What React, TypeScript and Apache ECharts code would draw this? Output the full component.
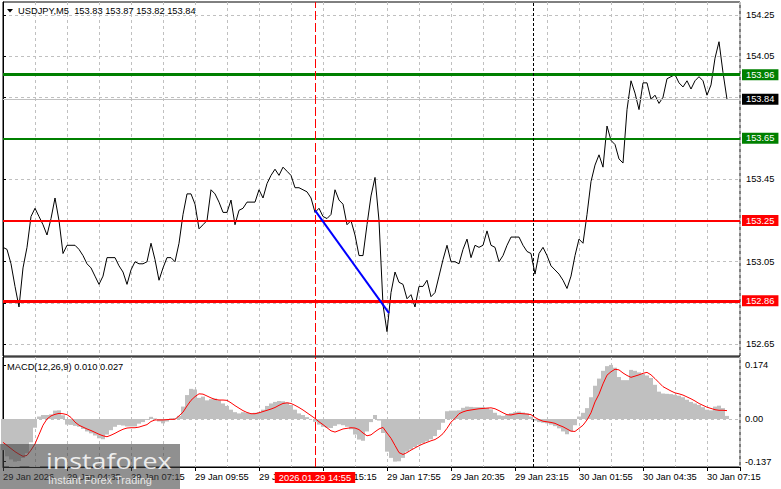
import React, { useEffect, useRef } from 'react';
import * as echarts from 'echarts';

// ---- data (M5 chart sampled every 10 minutes, t = minutes since 29 Jan 01:55) ----
const STEP_MIN = 10;
const price = [
  153.12, 153.11, 153.04, 152.93, 152.83, 153.02, 153.12, 153.27, 153.31, 153.27,
  153.23, 153.18, 153.26, 153.36, 153.25, 153.09, 153.13, 153.13, 153.13, 153.11,
  153.08, 153.04, 153.02, 152.98, 152.94, 152.98, 153.07, 153.07, 153.07, 153.03,
  153.00, 152.94, 153.01, 153.05, 153.04, 153.04, 153.05, 153.14, 153.06, 152.96,
  153.02, 153.07, 153.07, 153.05, 153.14, 153.28, 153.38, 153.38, 153.33, 153.21,
  153.23, 153.25, 153.40, 153.38, 153.34, 153.29, 153.29, 153.35, 153.23, 153.30,
  153.31, 153.34, 153.34, 153.34, 153.40, 153.36, 153.43, 153.47, 153.50, 153.47,
  153.51, 153.49, 153.47, 153.41, 153.41, 153.40, 153.39, 153.36, 153.29, 153.31,
  153.27, 153.26, 153.28, 153.40, 153.35, 153.33, 153.23, 153.25, 153.18, 153.08,
  153.08, 153.23, 153.37, 153.46, 153.25, 152.84, 152.71, 152.90, 153.00, 152.95,
  152.94, 152.87, 152.89, 152.83, 152.93, 152.93, 152.96, 152.88, 152.90, 152.98,
  153.06, 153.13, 153.05, 153.05, 153.04, 153.11, 153.16, 153.07, 153.13, 153.12,
  153.13, 153.20, 153.13, 153.12, 153.05, 153.08, 153.13, 153.17, 153.17, 153.17,
  153.13, 153.10, 153.09, 152.99, 153.09, 153.12, 153.08, 153.03, 153.01, 152.99,
  152.96, 152.92, 152.98, 153.08, 153.16, 153.14, 153.28, 153.44, 153.52, 153.57,
  153.51, 153.71, 153.64, 153.62, 153.55, 153.53, 153.79, 153.93, 153.87, 153.79,
  153.92, 153.92, 153.84, 153.86, 153.82, 153.85, 153.94, 153.95, 153.96, 153.92,
  153.90, 153.93, 153.89, 153.93, 153.95, 153.93, 153.86, 153.91, 154.04, 154.12,
  153.97, 153.84,
];
const macdHist = [
  -0.100, -0.120, -0.130, -0.137, -0.135, -0.125, -0.110, -0.075, -0.028, 0.008,
  0.013, 0.013, 0.015, 0.027, 0.028, 0.012, -0.018, -0.019, -0.022, -0.025,
  -0.032, -0.040, -0.046, -0.053, -0.062, -0.065, -0.050, -0.036, -0.025, -0.019,
  -0.021, -0.024, -0.024, -0.024, -0.015, -0.010, -0.003, 0.007, 0.002, -0.008,
  -0.014, -0.008, 0.002, 0.003, 0.010, 0.040, 0.077, 0.097, 0.095, 0.068,
  0.072, 0.060, 0.064, 0.066, 0.060, 0.050, 0.042, 0.030, 0.022, 0.018,
  0.022, 0.020, 0.018, 0.020, 0.022, 0.030, 0.042, 0.050, 0.055, 0.058,
  0.057, 0.053, 0.045, 0.030, 0.018, 0.013, 0.006, 0.000, -0.009, -0.018,
  -0.025, -0.028, -0.029, -0.022, -0.017, -0.020, -0.025, -0.033, -0.050, -0.066,
  -0.070, -0.040, -0.010, 0.013, -0.005, -0.045, -0.105, -0.125, -0.137, -0.136,
  -0.125, -0.105, -0.098, -0.090, -0.083, -0.078, -0.072, -0.065, -0.055, -0.035,
  -0.012, 0.025, 0.027, 0.027, 0.028, 0.036, 0.040, 0.039, 0.038, 0.038,
  0.038, 0.036, 0.031, 0.020, 0.012, 0.010, 0.014, 0.019, 0.022, 0.024,
  0.021, 0.018, 0.008, -0.005, -0.010, -0.012, -0.014, -0.018, -0.023, -0.030,
  -0.040, -0.049, -0.040, -0.020, 0.008, 0.020, 0.035, 0.070, 0.107, 0.130,
  0.155, 0.170, 0.174, 0.165, 0.135, 0.125, 0.125, 0.158, 0.155, 0.150,
  0.145, 0.140, 0.132, 0.110, 0.088, 0.082, 0.081, 0.080, 0.078, 0.075,
  0.070, 0.062, 0.055, 0.050, 0.045, 0.038, 0.030, 0.028, 0.040, 0.043,
  0.035, 0.010,
];
const macdSignal = [
  -0.075, -0.085, -0.095, -0.105, -0.113, -0.120, -0.117, -0.100, -0.080, -0.050,
  -0.020, 0.000, 0.010, 0.015, 0.018, 0.017, 0.014, 0.005, -0.010, -0.020,
  -0.026, -0.032, -0.037, -0.043, -0.049, -0.054, -0.057, -0.052, -0.046, -0.039,
  -0.033, -0.029, -0.028, -0.028, -0.026, -0.022, -0.018, -0.008, -0.003, -0.003,
  -0.003, -0.002, -0.001, -0.001, 0.010, 0.022, 0.042, 0.060, 0.072, 0.081,
  0.080, 0.074, 0.068, 0.063, 0.061, 0.061, 0.060, 0.052, 0.043, 0.035,
  0.027, 0.021, 0.017, 0.017, 0.020, 0.024, 0.028, 0.032, 0.037, 0.044,
  0.050, 0.052, 0.050, 0.044, 0.037, 0.029, 0.020, 0.011, 0.002, -0.009,
  -0.018, -0.028, -0.038, -0.042, -0.037, -0.032, -0.030, -0.028, -0.029, -0.034,
  -0.045, -0.054, -0.051, -0.041, -0.032, -0.027, -0.045, -0.062, -0.085, -0.108,
  -0.114, -0.108, -0.100, -0.093, -0.086, -0.080, -0.075, -0.070, -0.066, -0.058,
  -0.047, -0.030, -0.010, 0.002, 0.017, 0.023, 0.027, 0.029, 0.031, 0.033,
  0.034, 0.035, 0.036, 0.033, 0.027, 0.020, 0.014, 0.013, 0.016, 0.018,
  0.017, 0.016, 0.014, 0.005, -0.002, -0.007, -0.009, -0.011, -0.014, -0.020,
  -0.025, -0.032, -0.039, -0.040, -0.030, -0.020, -0.003, 0.020, 0.055, 0.080,
  0.113, 0.141, 0.152, 0.160, 0.158, 0.148, 0.140, 0.134, 0.138, 0.142,
  0.147, 0.150, 0.142, 0.130, 0.117, 0.104, 0.097, 0.090, 0.084, 0.081,
  0.077, 0.071, 0.065, 0.058, 0.050, 0.044, 0.038, 0.034, 0.030, 0.028,
  0.028, 0.027,
];
const timeLabels = [
  '29 Jan 2026', '29 Jan 04:35', '29 Jan 07:15', '29 Jan 09:55', '29 Jan 12:35', '29 Jan 15:15',
  '29 Jan 17:55', '29 Jan 20:35', '29 Jan 23:15', '30 Jan 01:55', '30 Jan 04:35', '30 Jan 07:15',
];
const priceGridLevels = [152.65, 152.85, 153.05, 153.25, 153.45, 153.65, 153.85, 154.05, 154.25];
const priceAxisLabels = [152.65, 153.05, 153.45, 154.05, 154.25];
const levels = [153.96, 153.65, 153.25, 152.86];
const macdAxisValues = [-0.137, 0, 0.174];
const ohlc = [153.83, 153.87, 153.82, 153.84];
const trendLine = [[780, 153.3], [965, 152.8]];
const markerTime = 780; // 2026.01.29 14:55
const markerLabel = '2026.01.29 14:55';
const dayBreakTime = 1325; // 30 Jan 00:00
const symbolTitle = 'USDJPY,M5';
const macdTitle = 'MACD(12,26,9)';

export default function App() {
  const ref = useRef<HTMLDivElement>(null);
  useEffect(() => {
    const el = ref.current as HTMLDivElement;
    const chart = echarts.init(el, null, { renderer: 'svg' });
    const FONT = 'Liberation Sans, Arial, sans-serif';
    const FS = 9.3;
    const GRID_EVERY = 80;
    const LABEL_EVERY = 160;
    const X_MAX = 1842.5;
    const gridLine = { color: '#c0c0c0', width: 1, type: [3, 3] as any };

    const priceData = price.map((v, i) => [i * STEP_MIN, v]);
    const histData = macdHist.map((v, i) => [i * STEP_MIN, v]);
    const sigData = macdSignal.map((v, i) => [i * STEP_MIN, v]);
    const last = price[price.length - 1];

    const levelStyles = [
      { color: '#008000', width: 3 },
      { color: '#008000', width: 2 },
      { color: '#ff0000', width: 2 },
      { color: '#ff0000', width: 3 },
    ];
    const boxLabel = (bg: string) => ({
      show: true,
      position: 'end',
      distance: 2,
      formatter: (p: any) => Number(p.value).toFixed(2),
      color: '#fff',
      backgroundColor: bg,
      padding: [1, 4, 0, 4],
      lineHeight: 10,
      fontSize: FS,
      fontFamily: FONT,
    });

    const mainMarks: any[] = levels.map((lv, k) => ({
      yAxis: lv,
      lineStyle: { color: levelStyles[k].color, width: levelStyles[k].width, type: 'solid' },
      label: boxLabel(levelStyles[k].color),
    }));
    mainMarks.push({
      yAxis: last,
      lineStyle: { color: '#c0c0c0', width: 1, type: 'solid' },
      label: boxLabel('#000'),
    });
    mainMarks.push({
      xAxis: markerTime,
      lineStyle: { color: '#ff0000', width: 1, type: [9, 3] },
      label: { show: false },
    });
    mainMarks.push({
      xAxis: dayBreakTime,
      lineStyle: { color: '#000', width: 1, type: [3, 2] },
      label: { show: false },
    });

    const macdMarks: any[] = [
      { yAxis: 0, lineStyle: { color: '#c0c0c0', width: 1, type: [3, 3] }, label: { show: false } },
      {
        xAxis: markerTime,
        lineStyle: { color: '#ff0000', width: 1, type: [9, 3] },
        label: {
          show: true,
          position: 'start',
          distance: 5,
          formatter: markerLabel,
          color: '#fff',
          backgroundColor: '#ff0000',
          padding: [1, 4, 0, 4],
          lineHeight: 10,
          fontSize: FS,
          fontFamily: FONT,
        },
      },
      { xAxis: dayBreakTime, lineStyle: { color: '#000', width: 1, type: [3, 2] }, label: { show: false } },
    ];

    const gearTeeth = Array.from({ length: 8 }, (_, k) => ({
      type: 'rect',
      rotation: (k * Math.PI) / 4,
      shape: { x: -3, y: -15.5, width: 6, height: 6 },
      style: { fill: 'rgba(255,255,255,0.85)' },
    }));

    chart.setOption({
      animation: false,
      backgroundColor: '#fff',
      grid: [
        { left: 3, top: 2, width: 737, height: 354, show: true, borderColor: '#000', borderWidth: 1, backgroundColor: '#fff' },
        { left: 3, top: 357, width: 737, height: 110, show: true, borderColor: '#000', borderWidth: 1, backgroundColor: '#fff' },
      ],
      xAxis: [
        {
          gridIndex: 0, type: 'value', min: 0, max: X_MAX, interval: GRID_EVERY,
          axisLine: { show: false }, axisTick: { show: false }, axisLabel: { show: false },
          splitLine: { show: true, lineStyle: gridLine },
        },
        {
          gridIndex: 1, type: 'value', min: 0, max: X_MAX, interval: GRID_EVERY,
          axisLine: { show: false }, axisTick: { show: false }, axisLabel: { show: false },
          splitLine: { show: true, lineStyle: gridLine },
        },
        {
          gridIndex: 1, type: 'value', min: 0, max: X_MAX, interval: LABEL_EVERY, position: 'bottom',
          axisLine: { show: true, lineStyle: { color: '#000', width: 1 } },
          axisTick: { show: true, length: 4, lineStyle: { color: '#000' } },
          splitLine: { show: false },
          axisLabel: {
            show: true, align: 'left', margin: 5, fontSize: FS, fontFamily: FONT, color: '#000',
            formatter: (v: number) => {
              const k = Math.round(v / LABEL_EVERY);
              return Math.abs(v - k * LABEL_EVERY) < 1e-6 && k < timeLabels.length ? timeLabels[k] : '';
            },
          },
        },
      ],
      yAxis: [
        {
          gridIndex: 0, type: 'value', position: 'right', min: 152.5916, max: 154.3132,
          axisLine: { show: true, lineStyle: { color: '#000', width: 1 } },
          axisTick: { show: true, length: 3, customValues: priceGridLevels, lineStyle: { color: '#000' } },
          axisLabel: {
            show: true, customValues: priceAxisLabels, margin: 6, fontSize: FS, fontFamily: FONT, color: '#000',
            formatter: (v: number) => v.toFixed(2),
          },
          splitLine: { show: true, lineStyle: gridLine },
        },
        {
          gridIndex: 1, type: 'value', position: 'right', min: -0.1543, max: 0.1994,
          axisLine: { show: true, lineStyle: { color: '#000', width: 1 } },
          axisTick: { show: true, length: 3, customValues: macdAxisValues, lineStyle: { color: '#000' } },
          axisLabel: {
            show: true, customValues: macdAxisValues, margin: 5, fontSize: FS, fontFamily: FONT, color: '#000',
            formatter: (v: number) => (Math.abs(v) < 1e-9 ? '0.00' : v.toFixed(3)),
          },
          splitLine: { show: false },
        },
      ],
      series: [
        {
          type: 'line', xAxisIndex: 0, yAxisIndex: 0, data: priceData, showSymbol: false,
          lineStyle: { color: '#000', width: 1 }, z: 3,
          markLine: { symbol: ['none', 'none'], silent: true, animation: false, data: mainMarks },
        },
        {
          type: 'line', xAxisIndex: 0, yAxisIndex: 0, data: trendLine, showSymbol: false,
          lineStyle: { color: '#0000ff', width: 2 }, z: 6,
        },
        {
          type: 'bar', xAxisIndex: 1, yAxisIndex: 1, data: histData, barWidth: 4,
          itemStyle: { color: '#c0c0c0' },
          markLine: { symbol: ['none', 'none'], silent: true, animation: false, data: macdMarks },
        },
        {
          type: 'line', xAxisIndex: 1, yAxisIndex: 1, data: sigData, showSymbol: false,
          lineStyle: { color: '#ff0000', width: 1 }, z: 6,
        },
      ],
      graphic: [
        { type: 'polygon', shape: { points: [[7, 9], [13, 9], [10, 12.5]] }, style: { fill: '#000' }, z: 50 },
        {
          type: 'text', x: 18, y: 11,
          style: {
            text: `${symbolTitle}  ${ohlc.map((v) => v.toFixed(2)).join(' ')}`,
            fill: '#000', fontSize: FS, fontFamily: FONT, verticalAlign: 'middle',
          },
          z: 50,
        },
        {
          type: 'text', x: 7, y: 367,
          style: {
            text: `${macdTitle} ${macdHist[macdHist.length - 1].toFixed(3)} ${macdSignal[macdSignal.length - 1].toFixed(3)}`,
            fill: '#000', fontSize: FS, fontFamily: FONT, verticalAlign: 'middle',
          },
          z: 50,
        },
        { type: 'rect', shape: { x: 0, y: 444, width: 180, height: 45 }, style: { fill: 'rgba(64,64,64,0.58)' }, z: 100 },
        {
          type: 'group', x: 24.5, y: 464, z: 101,
          children: [
            { type: 'ring', shape: { cx: 0, cy: 0, r: 12, r0: 5.5 }, style: { fill: 'rgba(255,255,255,0.85)' } },
            ...gearTeeth,
          ],
        },
        {
          type: 'text', x: 46, y: 460.5, scaleX: 1.22,
          style: { text: 'instaforex', fill: 'rgba(255,255,255,0.85)', fontSize: 22, fontFamily: 'Open Sans', verticalAlign: 'middle' },
          z: 101,
        },
        {
          type: 'text', x: 48, y: 480,
          style: { text: 'Instant Forex Trading', fill: 'rgba(255,255,255,0.8)', fontSize: 11, fontFamily: FONT, verticalAlign: 'middle' },
          z: 101,
        },
      ],
    });
    return () => chart.dispose();
  }, []);
  return (
    <div
      ref={ref}
      style={{ position: 'fixed', left: 0, top: 0, width: 781, height: 489, background: '#fff' }}
    />
  );
}
